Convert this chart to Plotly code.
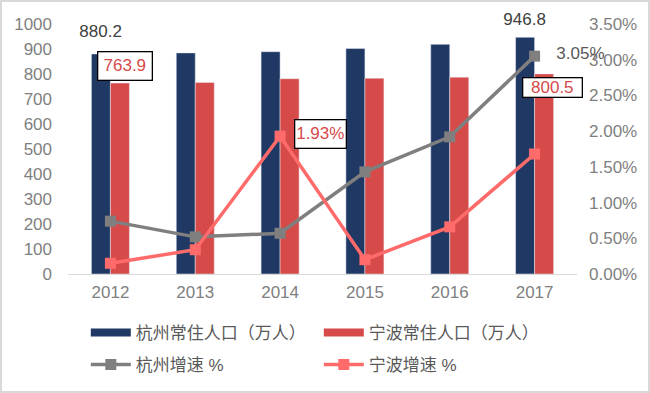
import plotly.graph_objects as go

years = ["2012", "2013", "2014", "2015", "2016", "2017"]
hz_pop = [880.2, 884.4, 889.2, 901.8, 918.8, 946.8]
nb_pop = [763.9, 766.3, 781.1, 782.9, 787.5, 800.5]
hz_rate = [0.74, 0.52, 0.57, 1.43, 1.92, 3.05]
nb_rate = [0.15, 0.34, 1.93, 0.20, 0.66, 1.68]

names = ["杭州常住人口（万人）", "宁波常住人口（万人）", "杭州增速 %", "宁波增速 %"]

NAVY = "#203864"
RED = "#d64a4a"
GRAY = "#7f7f7f"
PINK = "#ff6b6b"
FONT = "Liberation Sans, Noto Sans CJK SC, sans-serif"

fig = go.Figure()
fig.add_trace(go.Bar(x=years, y=hz_pop, marker_color=NAVY, showlegend=False, name=names[0]))
fig.add_trace(go.Bar(x=years, y=nb_pop, marker_color=RED, showlegend=False, name=names[1]))
# legend stand-ins for bars (wide swatches)
fig.add_trace(go.Scatter(x=[years[0]], y=[None], mode="lines", line=dict(color=NAVY, width=8),
                         name=names[0], legend="legend"))
fig.add_trace(go.Scatter(x=[years[0]], y=[None], mode="lines", line=dict(color=RED, width=8),
                         name=names[1], legend="legend"))
fig.add_trace(go.Scatter(x=years, y=hz_rate, yaxis="y2", mode="lines+markers",
                         line=dict(color=GRAY, width=3.5),
                         marker=dict(symbol="square", size=11, color=GRAY),
                         name=names[2], legend="legend2"))
fig.add_trace(go.Scatter(x=years, y=nb_rate, yaxis="y2", mode="lines+markers",
                         line=dict(color=PINK, width=3.5),
                         marker=dict(symbol="square", size=11, color=PINK),
                         name=names[3], legend="legend2"))

anns = [
    dict(x=0, y=hz_pop[0], text=f"{hz_pop[0]:.1f}", xshift=-10, yshift=22, font_color="#404040"),
    dict(x=0, y=nb_pop[0], text=f"{nb_pop[0]:.1f}", xshift=15, yshift=17, font_color=RED,
         bordercolor="black", bgcolor="white", width=53, height=27),
    dict(x=2, y=nb_rate[2], text=f"{nb_rate[2]:.2f}%", xshift=40, yshift=2, font_color=RED,
         bordercolor="black", bgcolor="white", width=50, height=27, yref="y2"),
    dict(x=5, y=hz_rate[5], text=f"{hz_rate[5]:.2f}%", xshift=20, yshift=2, font_color="#595959",
         xanchor="left", yref="y2"),
    dict(x=5, y=hz_pop[5], text=f"{hz_pop[5]:.1f}", xshift=-10, yshift=17, font_color="#404040"),
    dict(x=5, y=nb_pop[5], text=f"{nb_pop[5]:.1f}", xshift=18, yshift=-14, font_color=RED,
         bordercolor="black", bgcolor="white", width=58, height=18),
]
for a in anns:
    a.setdefault("yref", "y")
    a.setdefault("xanchor", "center")
    fc = a.pop("font_color")
    fig.add_annotation(xref="x", showarrow=False, yanchor="middle", borderwidth=1.3,
                       borderpad=0, font=dict(size=17, family=FONT, color=fc), **a)

leg_common = dict(orientation="h", xref="container", yref="container", x=0.132,
                  xanchor="left", yanchor="middle", entrywidth=178, itemwidth=40,
                  font=dict(size=17, color="#595959", family=FONT), traceorder="normal")

fig.update_layout(
    width=650, height=393,
    margin=dict(l=68, r=73, t=24, b=119, autoexpand=False),
    paper_bgcolor="white", plot_bgcolor="white",
    font=dict(family=FONT),
    barmode="group", bargap=0.552, bargroupgap=0,
    xaxis=dict(type="category", categoryorder="array", categoryarray=years, range=[-0.5, 5.5],
               showgrid=False, showline=True, linecolor="#d9d9d9", linewidth=1,
               ticks="", tickfont=dict(size=17, color="#7f7f7f"), ticklabelstandoff=3),
    yaxis=dict(range=[0, 1000], dtick=100, showgrid=False, zeroline=False, showline=False,
               tickfont=dict(size=17, color="#7f7f7f"), ticklabelstandoff=15),
    yaxis2=dict(range=[0, 3.5], dtick=0.5, overlaying="y", side="right", showgrid=False,
                zeroline=False, tickformat=".2f", ticksuffix="%",
                tickfont=dict(size=17, color="#7f7f7f"), ticklabelstandoff=11),
    legend=dict(y=1 - 333/393, **leg_common),
    legend2=dict(y=1 - 365/393, **leg_common),
    shapes=[dict(type="rect", xref="paper", yref="paper", x0=-67/509, x1=1+72/509,
                 y0=-118/250, y1=1+23/250, line=dict(color="#d9d9d9", width=2))],
)

fig.write_html("out.html", config={"displayModeBar": False},
               post_script="document.body.style.margin='0';")
